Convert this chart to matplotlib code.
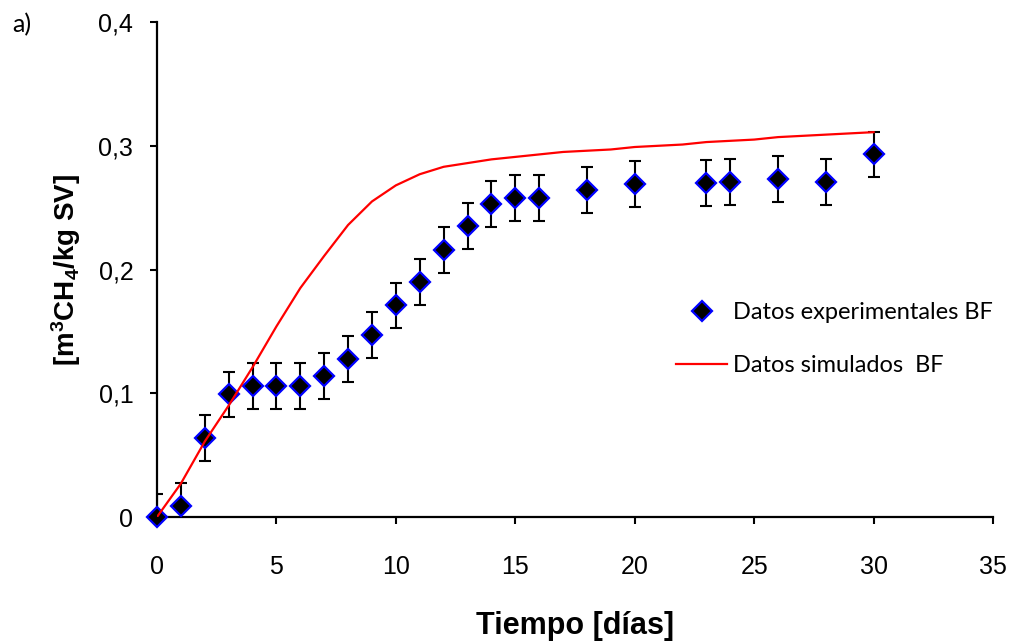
import matplotlib
matplotlib.use("Agg")
import matplotlib.pyplot as plt
from matplotlib.ticker import FixedLocator, FuncFormatter

# Experimental methane yield (BF) with standard deviation
dias_exp = [0, 1, 2, 3, 4, 5, 6, 7, 8, 9, 10, 11, 12, 13, 14, 15, 16, 18, 20, 23, 24, 26, 28, 30]
metano_exp = [0.000, 0.009, 0.064, 0.099, 0.106, 0.106, 0.106, 0.114, 0.128, 0.147, 0.171,
              0.190, 0.216, 0.235, 0.253, 0.258, 0.258, 0.264, 0.269, 0.270, 0.271, 0.273,
              0.271, 0.293]
error_exp = [0.0185] * len(dias_exp)

# Simulated methane yield (BF)
dias_sim = list(range(0, 31))
metano_sim = [0.000, 0.027, 0.061, 0.090, 0.121, 0.154, 0.185, 0.211, 0.236, 0.255, 0.268,
              0.277, 0.283, 0.286, 0.289, 0.291, 0.293, 0.295, 0.296, 0.297, 0.299, 0.300,
              0.301, 0.303, 0.304, 0.305, 0.307, 0.308, 0.309, 0.310, 0.311]

x_ticks = [0, 5, 10, 15, 20, 25, 30, 35]
y_ticks = [0.0, 0.1, 0.2, 0.3, 0.4]

plt.rcParams["font.family"] = ["Liberation Sans", "DejaVu Sans"]
plt.rcParams["mathtext.fontset"] = "custom"
plt.rcParams["mathtext.rm"] = "Liberation Sans:bold"
plt.rcParams["mathtext.bf"] = "Liberation Sans:bold"
plt.rcParams["mathtext.default"] = "bf"

fig = plt.figure(figsize=(10.16, 6.44), dpi=100)
ax = fig.add_axes([0.1545, 0.1972, 0.8229, 0.7686])

ax.errorbar(dias_exp, metano_exp, yerr=error_exp, fmt="none", ecolor="black",
            elinewidth=1.5, capsize=4.5, capthick=1.5, zorder=2)
ax.plot(dias_exp, metano_exp, linestyle="none", marker="D", markersize=10,
        markerfacecolor="black", markeredgecolor="#0000FF", markeredgewidth=1.6,
        clip_on=False, zorder=3, label="Datos experimentales BF")
ax.plot(dias_sim, metano_sim, color="#FF0000", linewidth=1.6, zorder=4,
        label="Datos simulados  BF")

ax.set_xlim(0, 35)
ax.set_ylim(0, 0.4)
ax.xaxis.set_major_locator(FixedLocator(x_ticks))
ax.yaxis.set_major_locator(FixedLocator(y_ticks))
ax.yaxis.set_major_formatter(FuncFormatter(
    lambda v, _: "0" if abs(v) < 1e-9 else f"{v:.1f}".replace(".", ",")))

for side in ("top", "right"):
    ax.spines[side].set_visible(False)
for side in ("left", "bottom"):
    ax.spines[side].set_linewidth(1.6)

ax.tick_params(axis="both", direction="out", length=5, width=1.5, labelsize=18,
               colors="black")
ax.tick_params(axis="x", pad=22)
ax.tick_params(axis="y", pad=12)

ax.set_xlabel("Tiempo [días]", fontsize=22, fontweight="bold")
ax.xaxis.set_label_coords(0.5, -0.19)
ax.set_ylabel(r"[m$^{3}$CH$_{4}$/kg SV]", fontsize=20, fontweight="bold")
ax.yaxis.label.set_va("center")
ax.yaxis.set_label_coords(-0.109, 0.5)

leg = ax.legend(loc="upper left", bbox_to_anchor=(0.621, 0.434), frameon=False,
                prop={"family": ["Lato", "DejaVu Sans"], "size": 17},
                handlelength=2.16, handletextpad=0.25, labelspacing=1.35,
                borderaxespad=0, borderpad=0)

fig.text(0.012, 0.962, "a)", fontsize=18, family=["Lato", "DejaVu Sans"],
         va="center", ha="left")

fig.savefig("out.png", dpi=100)
